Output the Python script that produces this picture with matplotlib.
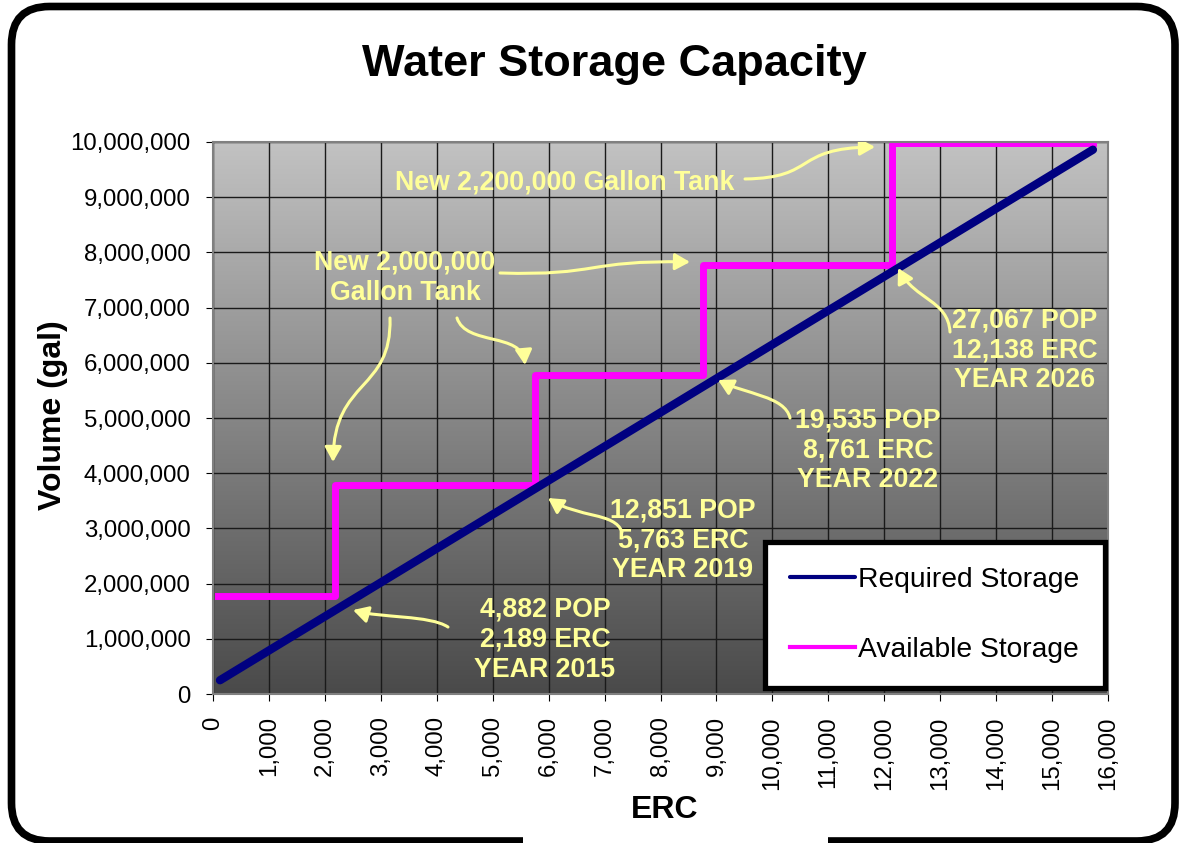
import numpy as np
import matplotlib.pyplot as plt
from matplotlib.colors import LinearSegmentedColormap
from matplotlib.patches import FancyBboxPatch, FancyArrowPatch, Rectangle
from matplotlib.path import Path
from matplotlib.ticker import FuncFormatter, MultipleLocator

plt.rcParams['font.family'] = ['Liberation Sans', 'DejaVu Sans']

# required storage (straight line between end points)
req_erc = [125, 15730]
req_gal = [250000, 9860000]

# available storage, steps where new tanks come on line
avail_erc = [90, 2189, 2189, 5763, 5763, 8761, 8761, 12138, 12138, 15730]
avail_gal = [1780000, 1780000, 3780000, 3780000, 5780000, 5780000,
             7780000, 7780000, 9980000, 9980000]

# annotation text blocks (ERC, gallons)
notes = ['4,882 POP\n2,189 ERC\nYEAR 2015',
         '12,851 POP\n5,763 ERC\nYEAR 2019',
         '19,535 POP\n8,761 ERC\nYEAR 2022',
         '27,067 POP\n12,138 ERC\nYEAR 2026',
         'New 2,000,000\nGallon Tank',
         'New 2,200,000 Gallon Tank']
note_erc = [5935, 8402, 11710, 14516, 3432, 6293]
note_gal = [980000, 2790000, 4420000, 6230000, 7540000, 9260000]

yellow = '#FFFF99'

fig = plt.figure(figsize=(11.8, 8.43), dpi=100)
ax = fig.add_axes([0.1805, 0.1767, 0.7585, 0.6549])

# silver-to-dark gradient behind the plot
cmap = LinearSegmentedColormap.from_list('bg', ['#4a4a4a', '#c2c2c2'])
ax.imshow(np.linspace(0, 1, 256).reshape(-1, 1), extent=[0, 16000, 0, 1e7],
          aspect='auto', origin='lower', cmap=cmap, zorder=0)

ax.plot(req_erc, req_gal, color='#000080', lw=6, solid_capstyle='round',
        label='Required Storage', zorder=3)
ax.plot(avail_erc, avail_gal, color='#FF00FF', lw=5, label='Available Storage',
        zorder=2.5)

ax.set_xlim(0, 16000)
ax.set_ylim(0, 1e7)
ax.xaxis.set_major_locator(MultipleLocator(1000))
ax.yaxis.set_major_locator(MultipleLocator(1e6))
comma = FuncFormatter(lambda v, p: f'{int(v):,}')
ax.xaxis.set_major_formatter(comma)
ax.yaxis.set_major_formatter(comma)
ax.tick_params(axis='x', labelrotation=90, labelsize=17.3, pad=11, length=5)
ax.tick_params(axis='y', labelsize=17.3, pad=11, length=5)
ax.grid(True, color='#1a1a1a', lw=1, zorder=1)
for s in ax.spines.values():
    s.set_color('#808080')
    s.set_linewidth(1.5)

ax.set_xlabel('ERC', fontsize=23, fontweight='bold')
ax.set_ylabel('Volume (gal)', fontsize=23, fontweight='bold')
ax.xaxis.set_label_coords(0.505, -0.183)
ax.yaxis.set_label_coords(-0.162, 0.505)

fig.text(0.521, 0.923, 'Water Storage Capacity', ha='center', va='center',
         fontsize=32.5, fontweight='bold')

for t, x, y in zip(notes, note_erc, note_gal):
    ax.text(x, y, t, color=yellow, fontsize=19.3, fontweight='bold',
            ha='center', va='center', linespacing=1.2, zorder=5)


# curved arrows, points given as pixel positions inside the plot box
def px(p):
    return ((p[0] - 213) / 895, (694 - p[1]) / 552)


arrows = [
    [(448, 627), (430, 615), (380, 618), (353, 610)],
    [(622, 532), (615, 512), (578, 518), (548, 498)],
    [(790, 418), (785, 396), (745, 394), (718, 380)],
    [(950, 332), (948, 300), (915, 300), (898, 268)],
    [(390, 318), (392, 392), (334, 378), (333, 462)],
    [(457, 318), (466, 346), (522, 332), (525, 365)],
    [(500, 273), (600, 276), (585, 260), (690, 262)],
    [(745, 179), (818, 178), (792, 148), (875, 147)],
]
for a in arrows:
    path = Path([px(p) for p in a],
                [Path.MOVETO, Path.CURVE4, Path.CURVE4, Path.CURVE4])
    ax.add_patch(FancyArrowPatch(path=path, transform=ax.transAxes,
                                 arrowstyle='-|>,head_length=9,head_width=5',
                                 color=yellow, lw=2.2, zorder=5))

leg = ax.legend(loc='lower right', bbox_to_anchor=(0.9966, 0.0109),
                borderaxespad=0, fontsize=20.3, fancybox=False, framealpha=1,
                edgecolor='black', handlelength=2.3, handletextpad=0.12,
                labelspacing=1.55, borderpad=0.9)
leg.get_frame().set_linewidth(3.8)
for h in leg.get_lines():
    h.set_linewidth(3)
leg.set_zorder(6)

# rounded outer frame
fig.patches.append(FancyBboxPatch((0.115, 0.02), 11.635, 8.345,
                                  boxstyle='round,pad=0,rounding_size=0.38',
                                  transform=fig.dpi_scale_trans, fill=False,
                                  ec='black', lw=5.5))
fig.patches.append(Rectangle((5.23, 0.0), 3.05, 0.08, transform=fig.dpi_scale_trans,
                             fc='white', ec='none', zorder=3))

fig.savefig('out.png', dpi=100)
